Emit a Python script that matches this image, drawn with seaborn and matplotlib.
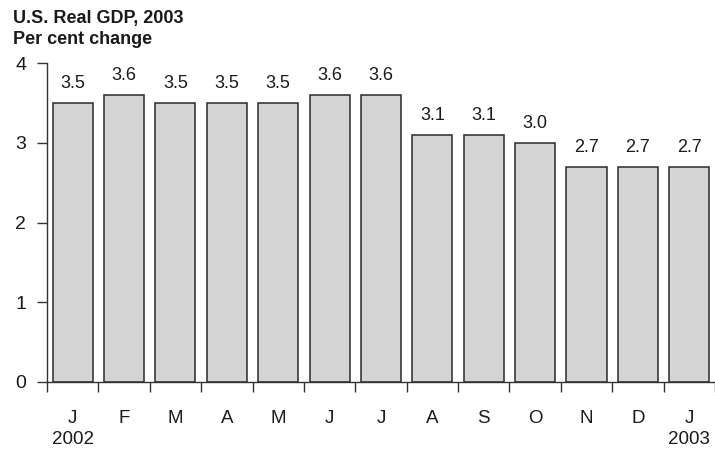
import numpy as np
import pandas as pd
import seaborn as sns
from matplotlib import pyplot as plt
from matplotlib import transforms

# Data
periods = ["2002-01", "2002-02", "2002-03", "2002-04", "2002-05", "2002-06", "2002-07",
           "2002-08", "2002-09", "2002-10", "2002-11", "2002-12", "2003-01"]
month_labels = ["J", "F", "M", "A", "M", "J", "J", "A", "S", "O", "N", "D", "J"]
gdp_change = [3.5, 3.6, 3.5, 3.5, 3.5, 3.6, 3.6, 3.1, 3.1, 3.0, 2.7, 2.7, 2.7]
year_labels = {0: "2002", 12: "2003"}

df = pd.DataFrame({"period": periods, "change": gdp_change})

sns.set_style("ticks")
plt.rcParams['font.family'] = ['Liberation Sans', 'DejaVu Sans']

fig = plt.figure(figsize=(7.15, 4.51), dpi=100)
ax = fig.add_axes([0.0657, 0.153, 0.9343, 0.707])

sns.barplot(data=df, x="period", y="change", order=periods, color="#d4d4d4",
            saturation=1, edgecolor="#2a2a2a", linewidth=1.1, width=0.78, ax=ax)

for i, v in enumerate(gdp_change):
    ax.annotate(f"{v:.1f}", (i, v), xytext=(0, 8), textcoords="offset points",
                ha="center", va="bottom", fontsize=13, color="#1a1a1a")

ax.set_xlim(-0.5, len(periods) - 0.5)
ax.set_ylim(0, 4)
ax.set_yticks([0, 1, 2, 3, 4])
ax.tick_params(axis="y", labelsize=14, length=7, width=1, color="#333333",
               labelcolor="#1a1a1a", pad=8)

ax.set_xticks(range(len(periods)))
ax.set_xticklabels(month_labels)
ax.set_xticks(np.arange(-0.5, len(periods), 1), minor=True)
ax.tick_params(axis="x", which="major", length=0, labelsize=13.5, pad=20,
               labelcolor="#1a1a1a")
ax.tick_params(axis="x", which="minor", length=7, width=1, color="#333333")
ax.set_xlabel("")
ax.set_ylabel("")

sns.despine(ax=ax)
for side in ["left", "bottom"]:
    ax.spines[side].set_color("#333333")
    ax.spines[side].set_linewidth(1)

trans = transforms.blended_transform_factory(ax.transData, fig.transFigure)
for idx, yr in year_labels.items():
    ax.text(idx, 1 - 440 / 451, yr, transform=trans, ha="center", va="center",
            fontsize=13.5, color="#1a1a1a")

fig.text(13 / 715, 1 - 18 / 451, "U.S. Real GDP, 2003", fontsize=13,
         fontweight="bold", ha="left", va="center", color="#1a1a1a")
fig.text(13 / 715, 1 - 40 / 451, "Per cent change", fontsize=13,
         fontweight="bold", ha="left", va="center", color="#1a1a1a")

fig.savefig("out.png", dpi=100)
